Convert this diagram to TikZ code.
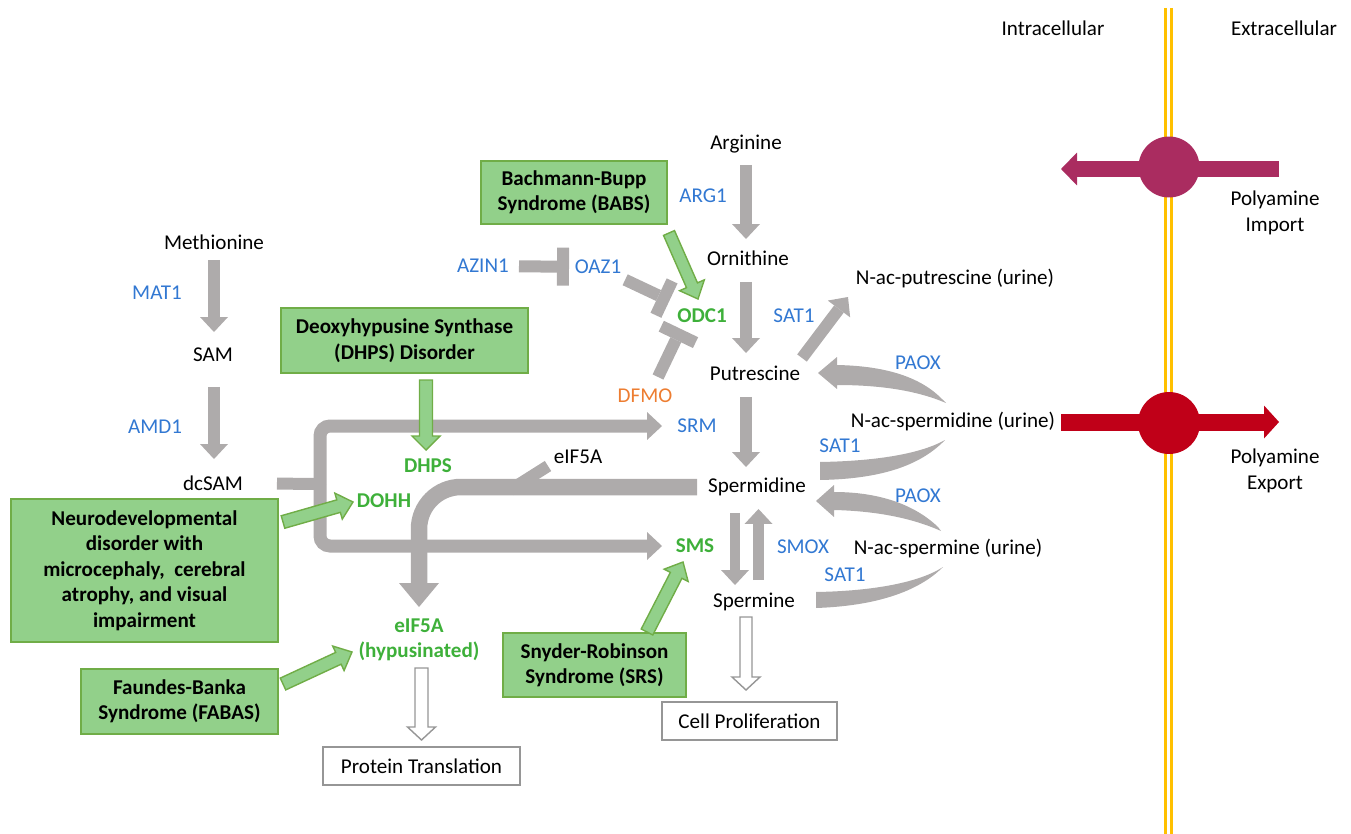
\documentclass[tikz,border=0pt]{standalone}
\usepackage{fontspec}
\setmainfont{Carlito}
\usetikzlibrary{arrows.meta,calc}
\definecolor{gr}{RGB}{174,171,171}
\definecolor{gfill}{RGB}{146,208,138}
\definecolor{gborder}{RGB}{112,173,71}
\definecolor{gtext}{RGB}{62,176,58}
\definecolor{eblue}{RGB}{50,120,210}
\definecolor{dorange}{RGB}{237,125,49}
\definecolor{impc}{RGB}{170,44,96}
\definecolor{expc}{RGB}{192,0,24}
\definecolor{membc}{RGB}{255,192,0}
\definecolor{boxgray}{RGB}{150,150,150}

\newcommand\blockarrow[6]{%
  \coordinate (ba-h) at ($(#3)!#6!(#2)$);
  \path[#1] ($(#2)!#4!90:(#3)$) -- ($(ba-h)!#4!90:(#3)$) -- ($(ba-h)!#5!90:(#3)$) -- (#3)
    -- ($(ba-h)!#5!-90:(#3)$) -- ($(ba-h)!#4!-90:(#3)$) -- ($(#2)!#4!-90:(#3)$) -- cycle;}

\begin{document}
\begin{tikzpicture}[x=0.02cm,y=-0.02cm,
  font=\fontsize{12}{14.5}\selectfont,
  lbl/.style={inner sep=0pt},
  enz/.style={inner sep=0pt, text=eblue},
  gtx/.style={inner sep=0pt, text=gtext, font=\fontsize{12}{14.5}\selectfont\bfseries},
  gbox/.style={draw=gborder, fill=gfill, line width=0.9pt, font=\fontsize{12}{14.5}\selectfont\bfseries, align=center, inner sep=0pt},
  wbox/.style={draw=boxgray, fill=white, line width=0.9pt, inner sep=0pt},
  gline/.style={draw=gr, line width=0.24cm},
  garrow/.style={gline, -{Triangle[width=0.56cm,length=0.3cm,line width=0pt]}},
  inhib/.style={gline, -{Rectangle[width=0.76cm,length=0.24cm,line width=0pt]}},
  garr/.style={fill=gfill, draw=gborder, line width=0.8pt},
  harr/.style={fill=white, draw=boxgray, line width=0.8pt},
  memb/.style={draw=membc, line width=0.06cm}
]
\useasboundingbox (0,0) rectangle (1351,834);

% membrane
\draw[memb] (1165.5,8) -- (1165.5,834);
\draw[memb] (1171.5,8) -- (1171.5,834);

% labels
\node[lbl] (intra) at (1053,28) {Intracellular};
\node[lbl] (extra) at (1284,28) {Extracellular};
\node[lbl, align=center] (imp) at (1275,213) {Polyamine\\Import};
\node[lbl, align=center] (exp) at (1275,471) {Polyamine\\Export};

\node[lbl] (meth) at (214,242) {Methionine};
\node[enz] (mat1) at (157,293) {MAT1};
\node[lbl] (sam) at (213,355) {SAM};
\node[enz] (amd1) at (155,427) {AMD1};
\node[lbl] (dcsam) at (213,483) {dcSAM};

\node[lbl] (arg) at (746,144) {Arginine};
\node[enz] (arg1) at (703,196) {ARG1};
\node[lbl] (orn) at (748,258) {Ornithine};
\node[gtx] (odc1) at (702,316) {ODC1};
\node[enz] (sat1a) at (794,316) {SAT1};
\node[lbl] (put) at (755,373) {Putrescine};
\node[lbl] (nacput) at (955,278) {N-ac-putrescine (urine)};
\node[enz] (paoxa) at (918,363) {PAOX};
\node[lbl] (nacspd) at (953,421) {N-ac-spermidine (urine)};
\node[enz] (sat1b) at (840,446) {SAT1};
\node[enz] (srm) at (697,426) {SRM};
\node[lbl, text=dorange] (dfmo) at (645,396) {DFMO};
\node[lbl] (spd) at (757,487) {Spermidine};
\node[lbl] (eif) at (578,457) {eIF5A};
\node[enz] (paoxb) at (918,496) {PAOX};
\node[lbl] (nacspm) at (948,548) {N-ac-spermine (urine)};
\node[enz] (sat1c) at (845,575) {SAT1};
\node[gtx] (sms) at (695,546) {SMS};
\node[enz] (smox) at (803,547) {SMOX};
\node[lbl] (spm) at (754,602) {Spermine};
\node[enz] (azin1) at (483,266) {AZIN1};
\node[enz] (oaz1) at (598,267) {OAZ1};
\node[gtx] (dhps) at (428,466) {DHPS};
\node[gtx] (dohh) at (384,501) {DOHH};
\node[gtx, align=center] (eifh) at (419,640) {eIF5A\\(hypusinated)};

% boxes
\node[gbox, minimum width=3.72cm, minimum height=1.26cm] (babs) at (574,192.5) {Bachmann-Bupp\\Syndrome (BABS)};
\node[gbox, minimum width=4.94cm, minimum height=1.3cm] (dhpsbox) at (404.5,340.5) {Deoxyhypusine Synthase\\(DHPS) Disorder};
\node[gbox, minimum width=5.34cm, minimum height=2.86cm] (neuro) at (144.5,570.5) {Neurodevelopmental\\disorder with\\microcephaly,\ \ cerebral\\atrophy, and visual\\impairment};
\node[gbox, minimum width=3.94cm, minimum height=1.3cm] (fabas) at (179.5,701.5) {Faundes-Banka\\Syndrome (FABAS)};
\node[gbox, minimum width=3.66cm, minimum height=1.28cm] (srs) at (594.5,665) {Snyder-Robinson\\Syndrome (SRS)};
\node[wbox, minimum width=3.94cm, minimum height=0.76cm] (prot) at (421.5,766) {Protein Translation};
\node[wbox, minimum width=3.5cm, minimum height=0.76cm] (cell) at (749.5,721) {Cell Proliferation};

% straight gray arrows
\draw[garrow, shorten <=0.36cm, shorten >=0.46cm] (meth.center) -- (meth.center |- sam.center);
\draw[garrow, shorten <=0.64cm, shorten >=0.48cm] (meth.center |- sam.center) -- (meth.center |- dcsam.center);
\draw[garrow, shorten <=0.42cm, shorten >=0.38cm] (arg.center) -- (arg.center |- orn.center);
\draw[garrow, shorten <=0.48cm, shorten >=0.4cm] (arg.center |- orn.center) -- (arg.center |- put.center);
\draw[garrow, shorten <=0.48cm, shorten >=0.4cm] (arg.center |- put.center) -- (arg.center |- spd.center);
\coordinate (dA) at ([xshift=-0.44cm]spd.center);
\coordinate (dB) at (dA |- spm.center);
\coordinate (uA) at ([xshift=0.03cm]spd.center);
\coordinate (uB) at (uA |- spm.center);
\draw[garrow, line width=0.21cm, shorten <=0.52cm, shorten >=0.34cm] (dA) -- (dB);
\draw[garrow, line width=0.21cm, shorten <=0.44cm, shorten >=0.44cm] (uB) -- (uA);
\coordinate (pn1) at (802,358);
\coordinate (pn2) at (848,297);
\draw[garrow] (pn1) -- (pn2);

% inhibitions
\draw[inhib, shorten <=0.72cm, shorten >=0.58cm] (azin1.center) -- (oaz1.center);
\draw[inhib, shorten <=0.6cm, shorten >=0.72cm] (oaz1.center) -- (odc1.center);
\coordinate (df1) at (658,377);
\coordinate (df2) at (681,329);
\draw[inhib] (df1) -- (df2);

% dcSAM branch
\coordinate (br) at (320,484);
\draw[gline, shorten <=1.28cm] (dcsam.center) -- (br);
\draw[garrow, line width=0.26cm, rounded corners=0.2cm, shorten >=0.7cm] (br) |- (srm.center);
\draw[garrow, line width=0.26cm, rounded corners=0.2cm, shorten >=0.66cm] (br) |- (sms.center);

% eIF5A path
\coordinate (es1) at (510,490);
\coordinate (es2) at (548,466);
\draw[gline] (es1) -- (es2);
\draw[gline, line width=0.33cm, rounded corners=0.84cm, shorten <=1.2cm, shorten >=0.66cm,
  -{Triangle[width=0.8cm,length=0.48cm,line width=0pt]}] (spd.center) -| (eifh.center);

% PAOX / SAT1 curved arrows
\fill[gr] (943,400) .. controls (922,378) and (888,366) .. (837,365) -- (837,357) -- (818,373) -- (837,389) -- (837,385) .. controls (882,385) and (918,391) .. (946,403) -- cycle;
\fill[gr] (938,527) .. controls (915,505) and (880,492) .. (834,492) -- (834,485) -- (816,501) -- (834,517) -- (834,510) .. controls (876,511) and (912,518) .. (941,531) -- cycle;
\fill[gr] (820,462) .. controls (880,461) and (922,453) .. (945,440) .. controls (920,466) and (880,479) .. (820,480) -- cycle;
\fill[gr] (816,592) .. controls (875,591) and (920,582) .. (943,567) .. controls (918,592) and (875,606) .. (816,608) -- cycle;

% green arrows
\coordinate (ga1) at (669,233); \coordinate (gb1) at (698,299);
\blockarrow{garr}{ga1}{gb1}{0.12cm}{0.27cm}{0.3cm}
\coordinate (ga2) at (426,380); \coordinate (gb2) at (426,450);
\blockarrow{garr}{ga2}{gb2}{0.13cm}{0.28cm}{0.28cm}
\coordinate (ga3) at (283,522); \coordinate (gb3) at (353,502);
\blockarrow{garr}{ga3}{gb3}{0.13cm}{0.27cm}{0.3cm}
\coordinate (ga4) at (283,684); \coordinate (gb4) at (352,652);
\blockarrow{garr}{ga4}{gb4}{0.13cm}{0.27cm}{0.3cm}
\coordinate (ga5) at (647,632); \coordinate (gb5) at (683,562);
\blockarrow{garr}{ga5}{gb5}{0.13cm}{0.27cm}{0.3cm}

% hollow arrows
\coordinate (h1) at (421.5,668); \coordinate (h2) at (421.5,740);
\blockarrow{harr}{h1}{h2}{0.13cm}{0.28cm}{0.26cm}
\coordinate (h3) at (746,617); \coordinate (h4) at (746,690);
\blockarrow{harr}{h3}{h4}{0.12cm}{0.28cm}{0.26cm}

% transport
\coordinate (impR) at (1279,169); \coordinate (impL) at (1061,169);
\draw[impc, line width=0.33cm, -{Triangle[width=0.66cm,length=0.32cm,line width=0pt]}] (impR) -- (impL);
\node[circle, fill=impc, minimum size=1.22cm, inner sep=0pt] (impcirc) at (1169,167) {};
\coordinate (expL) at (1061,422); \coordinate (expR) at (1279,422);
\draw[expc, line width=0.34cm, -{Triangle[width=0.66cm,length=0.3cm,line width=0pt]}] (expL) -- (expR);
\node[circle, fill=expc, minimum size=1.24cm, inner sep=0pt] (expcirc) at (1169,423) {};
\end{tikzpicture}
\end{document}
